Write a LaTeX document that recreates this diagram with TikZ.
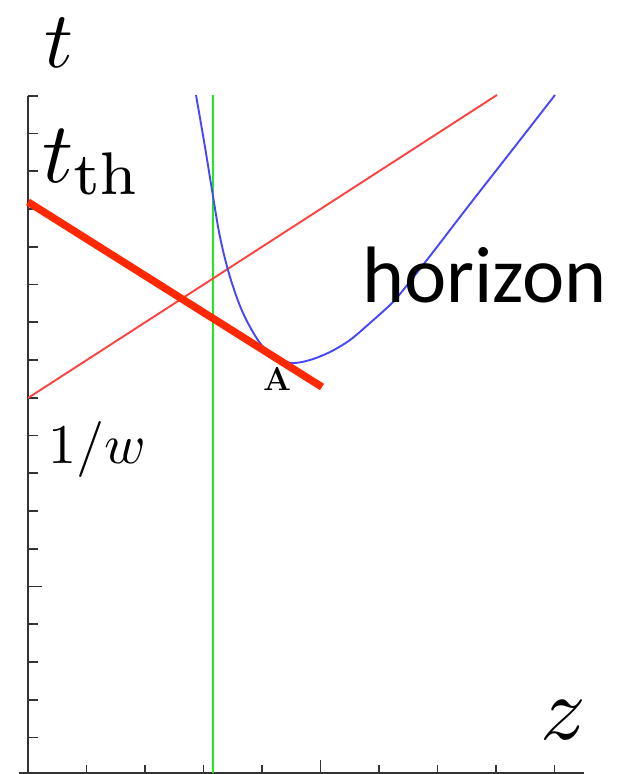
\documentclass[tikz,border=0pt]{standalone}
\usepackage{graphicx}
\usepackage{fontspec}
\newfontfamily\calib{Carlito}
\begin{document}
\begin{tikzpicture}[x=1pt,y=-1pt,
  axisline/.style={draw=black!80,line width=1.8pt},
  tickmark/.style={draw=black!80,line width=1.6pt},
  lbl/.style={inner sep=0pt,outer sep=0pt,anchor=base west},
  thinred/.style={draw=red!75,line width=1.9pt},
  thickred/.style={draw={rgb,255:red,255;green,40;blue,0},line width=7.5pt},
  bluecurve/.style={draw={rgb,255:red,70;green,70;blue,255},line width=1.9pt},
  greenline/.style={draw={rgb,255:red,30;green,235;blue,30},line width=2pt}]
\useasboundingbox (0,0) rectangle (619,774);
% axes
\coordinate (ytop) at (28,95.7);
\coordinate (yorig) at (28,773);
\coordinate (xleft) at (19,773);
\coordinate (xend) at (584,773);
\draw[axisline] (ytop) -- (yorig);
\draw[axisline] (xleft) -- (xend);
\foreach \k in {0,...,17}{
  \ifnum\k=13
    \draw[tickmark] (28,95.7+37.75*\k) -- (42,95.7+37.75*\k);
  \else
    \draw[tickmark] (28,95.7+37.75*\k) -- (38,95.7+37.75*\k);
  \fi
}
\foreach \k in {1,...,9}{
  \ifnum\k=5
    \draw[tickmark] (28+58.5*\k,773) -- (28+58.5*\k,760);
  \else
    \draw[tickmark] (28+58.5*\k,773) -- (28+58.5*\k,765);
  \fi
}
% green line
\coordinate (g1) at (213.3,95);
\coordinate (g2) at (213.3,773);
\draw[greenline] (g1) -- (g2);
% thin red line
\coordinate (r1) at (28,398);
\coordinate (r2) at (497,95);
\draw[thinred] (r1) -- (r2);
% blue horizon curve
\draw[bluecurve] plot[smooth,tension=0.55] coordinates {
 (196,95) (205,147) (212,190) (220,237) (230,277) (243,313) (260,343)
 (277,358) (292,363) (310,360) (330,352) (350,340) (370,323) (390,305)
 (400,294) (430,256) (470,204) (513,149) (555,95)};
% thick red line
\coordinate (R1) at (28,202);
\coordinate (R2) at (322,387);
\draw[thickred] (R1) -- (R2);
% labels
\node[lbl] (tlab) at (44,67) {\scalebox{8}{$t$}};
\node[lbl] (tth) at (42,182) {\scalebox{8.6}{$t_{\mathrm{th}}$}};
\node[lbl] (winv) at (48,463) {\scalebox{5.6}{$1/w$}};
\node[lbl] (zlab) at (540,739) {\scalebox{9}{$z$}};
\node[lbl,font=\calib\fontsize{80}{80}\selectfont] (hor) at (362,302) {horizon};
\node[lbl,font=\bfseries\fontsize{33}{33}\selectfont] (alab) at (263,390) {A};
\end{tikzpicture}
\end{document}
